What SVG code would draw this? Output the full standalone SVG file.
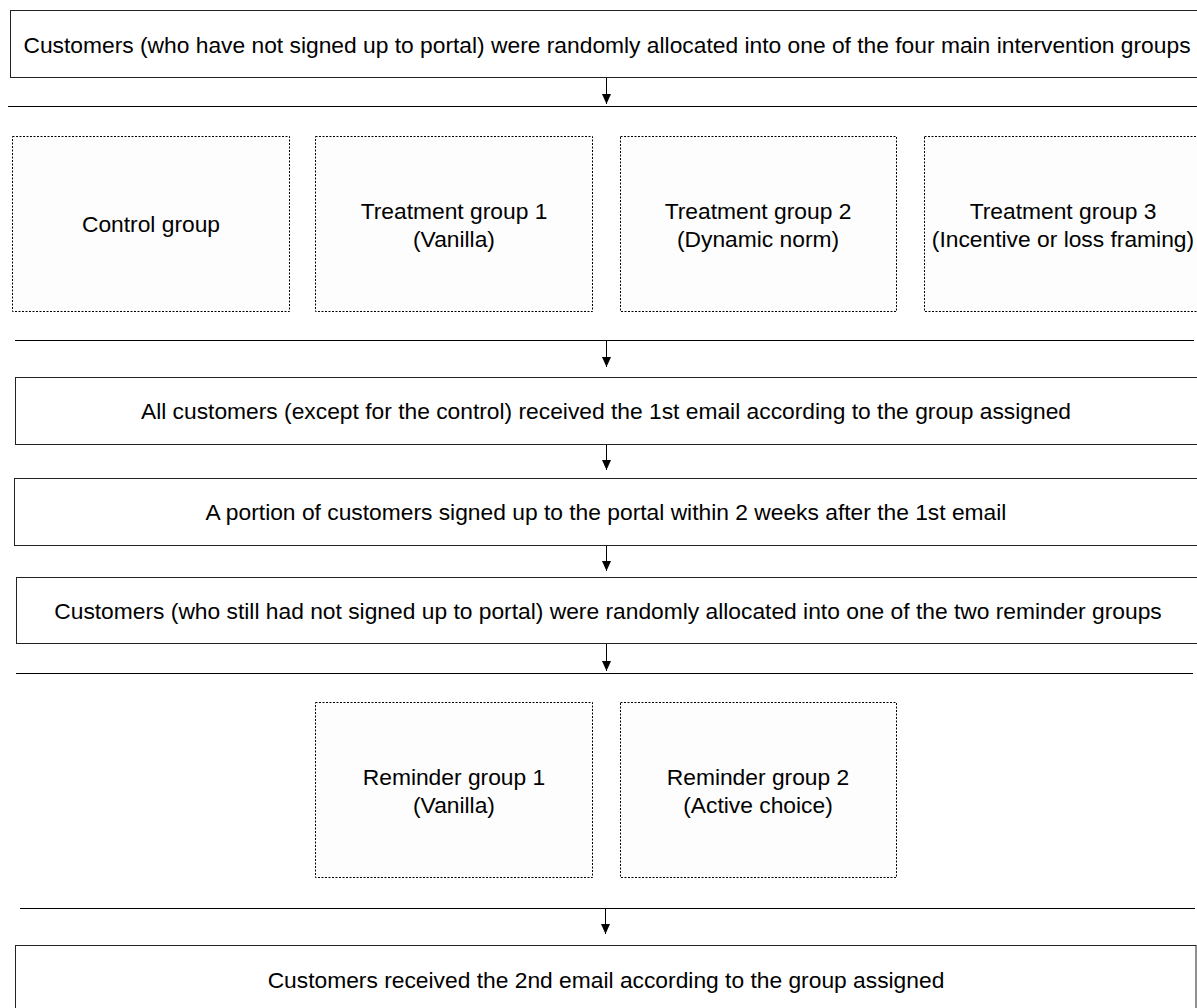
<svg xmlns="http://www.w3.org/2000/svg" width="1197" height="1008" viewBox="0 0 1197 1008">
<defs>
<marker id="ah" markerWidth="10" markerHeight="9" refX="10" refY="4.5" orient="auto" markerUnits="userSpaceOnUse" viewBox="0 0 10 9">
<path d="M0,0 L10,4.5 L0,9 Z" fill="#000"/>
</marker>
<style>
.box{fill:#fff;stroke:#222;stroke-width:1}
.dot{fill:#fdfdfd;stroke:#000;stroke-width:1;stroke-dasharray:2,1.5}
.sep{stroke:#000;stroke-width:1;fill:none}
.arr{stroke:#000;stroke-width:1;fill:none;marker-end:url(#ah)}
text{font-family:"Liberation Sans",Arial,Helvetica,sans-serif;font-size:22.8px;fill:#000;text-anchor:middle}
</style>
</defs>
<rect width="1197" height="1008" fill="#fff"/>
<g id="connectors">
<line class="sep" x1="8" y1="106.5" x2="1197" y2="106.5"/>
<line class="sep" x1="15" y1="340.5" x2="1194" y2="340.5"/>
<line class="sep" x1="16" y1="673.5" x2="1193" y2="673.5"/>
<line class="sep" x1="20" y1="908.5" x2="1195" y2="908.5"/>
<line class="arr" x1="606.5" y1="77" x2="606.5" y2="104"/>
<line class="arr" x1="606.5" y1="340" x2="606.5" y2="367"/>
<line class="arr" x1="606.5" y1="444" x2="606.5" y2="470"/>
<line class="arr" x1="606.5" y1="545" x2="606.5" y2="571"/>
<line class="arr" x1="606.5" y1="643" x2="606.5" y2="671"/>
<line class="arr" x1="605.5" y1="908" x2="605.5" y2="934"/>
</g>
<g id="n-start"><rect class="box" x="10.5" y="10.5" width="1200" height="67"/><text x="607" y="53">Customers (who have not signed up to portal) were randomly allocated into one of the four main intervention groups</text></g>
<g id="n-control"><rect class="dot" x="12.5" y="136.5" width="277" height="175"/><text x="151" y="232">Control group</text></g>
<g id="n-t1"><rect class="dot" x="315.5" y="136.5" width="277" height="175"/><text x="454" y="219">Treatment group 1</text><text x="454" y="247">(Vanilla)</text></g>
<g id="n-t2"><rect class="dot" x="620.5" y="136.5" width="276" height="175"/><text x="758" y="219">Treatment group 2</text><text x="758" y="247">(Dynamic norm)</text></g>
<g id="n-t3"><rect class="dot" x="924.5" y="136.5" width="290" height="175"/><text x="1063" y="219">Treatment group 3</text><text x="1063" y="247">(Incentive or loss framing)</text></g>
<g id="n-email1"><rect class="box" x="15.5" y="377.5" width="1200" height="67"/><text x="606" y="419">All customers (except for the control) received the 1st email according to the group assigned</text></g>
<g id="n-signed"><rect class="box" x="14.5" y="478.5" width="1200" height="67"/><text x="606" y="520">A portion of customers signed up to the portal within 2 weeks after the 1st email</text></g>
<g id="n-realloc"><rect class="box" x="16.5" y="577.5" width="1200" height="66"/><text x="608" y="619">Customers (who still had not signed up to portal) were randomly allocated into one of the two reminder groups</text></g>
<g id="n-r1"><rect class="dot" x="315.5" y="702.5" width="277" height="175"/><text x="454" y="785">Reminder group 1</text><text x="454" y="813">(Vanilla)</text></g>
<g id="n-r2"><rect class="dot" x="620.5" y="702.5" width="276" height="175"/><text x="758" y="785">Reminder group 2</text><text x="758" y="813">(Active choice)</text></g>
<g id="n-email2"><rect class="box" x="15.5" y="945.5" width="1180.5" height="80"/><text x="606" y="988">Customers received the 2nd email according to the group assigned</text></g>
</svg>
